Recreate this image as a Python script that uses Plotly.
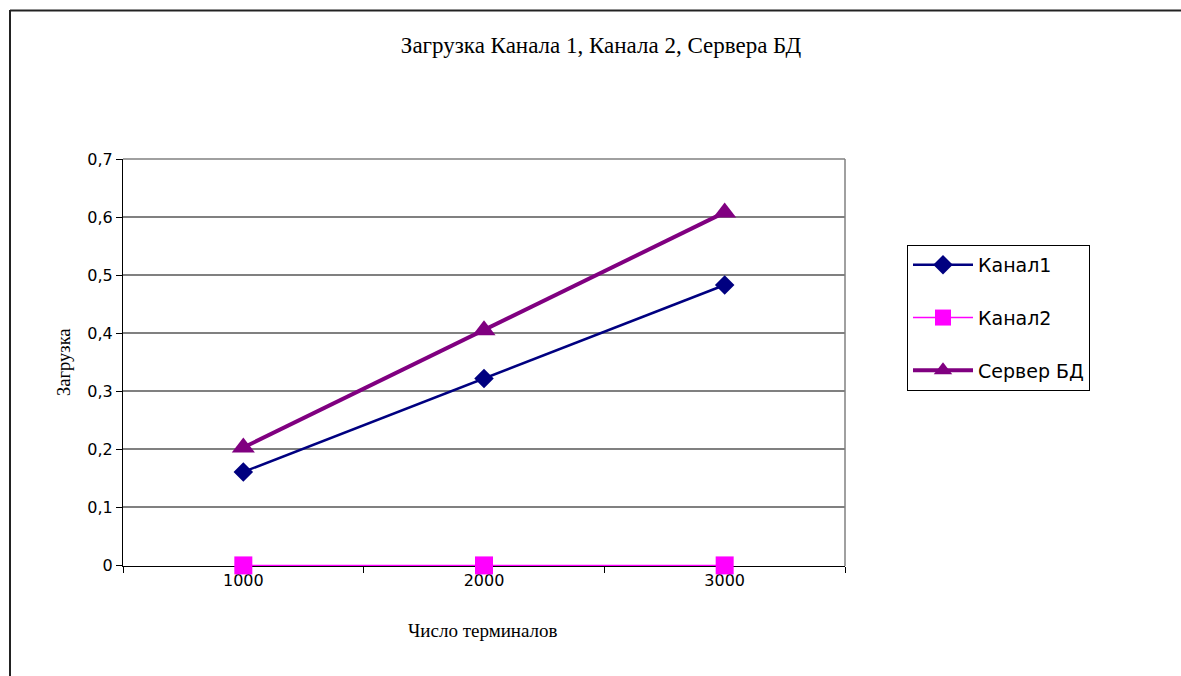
import plotly.graph_objects as go

# Data
terminals = ["1000", "2000", "3000"]
kanal1 = [0.161, 0.322, 0.483]
kanal2 = [0.0, 0.0, 0.0]
server_db = [0.203, 0.405, 0.608]

W, H = 1181, 676
L, R, T, B = 123, 336, 159, 110
pw, ph = W - L - R, H - T - B


def px_x(x):
    return (x - L) / pw


def px_y(y):
    return (H - B - y) / ph


SANS = "DejaVu Sans"
SERIF = "Liberation Serif"

fig = go.Figure()
fig.add_trace(go.Scatter(
    x=terminals, y=kanal1, name="Канал1", mode="lines+markers",
    line=dict(color="#000080", width=2.5),
    marker=dict(symbol="diamond", size=15, color="#000080"),
    legendgroup="a", cliponaxis=False,
))
fig.add_trace(go.Scatter(
    x=terminals, y=kanal2, name="Канал2", mode="lines+markers",
    line=dict(color="#FF00FF", width=1.4),
    marker=dict(symbol="square", size=18, color="#FF00FF"),
    legendgroup="b", cliponaxis=False,
))
fig.add_trace(go.Scatter(
    x=terminals, y=server_db, name="Сервер БД", mode="lines+markers",
    line=dict(color="#800080", width=4),
    marker=dict(symbol="triangle-up", size=20, color="#800080"),
    legendgroup="c", cliponaxis=False,
))

shapes = [
    # outer chart frame (top and left edges)
    dict(type="line", xref="paper", yref="paper",
         x0=px_x(10), x1=px_x(W + 5), y0=px_y(10.5), y1=px_y(10.5),
         line=dict(color="#222222", width=2)),
    dict(type="line", xref="paper", yref="paper",
         x0=px_x(10), x1=px_x(10), y0=px_y(10), y1=px_y(H + 5),
         line=dict(color="#222222", width=2)),
    # right and top edges of the plot area
    dict(type="line", xref="paper", yref="paper", layer="below",
         x0=1, x1=1, y0=0, y1=1,
         line=dict(color="#808080", width=1.5)),
    dict(type="line", xref="paper", yref="paper", layer="below",
         x0=0, x1=1, y0=1, y1=1,
         line=dict(color="#808080", width=1.5)),
]

annotations = [
    dict(text="Число терминалов", xref="paper", yref="paper",
         x=px_x(483), y=px_y(630), xanchor="center", yanchor="middle",
         showarrow=False, font=dict(family=SERIF, size=19, color="black")),
    dict(text="Загрузка", xref="paper", yref="paper", textangle=-90,
         x=px_x(64), y=px_y(362), xanchor="center", yanchor="middle",
         showarrow=False, font=dict(family=SERIF, size=18.5, color="black")),
]

fig.update_layout(
    width=W, height=H,
    margin=dict(l=L, r=R, t=T, b=B),
    paper_bgcolor="white", plot_bgcolor="white",
    separators=", ",
    title=dict(text="Загрузка Канала 1, Канала 2, Сервера БД",
               xref="container", yref="container",
               x=601 / W, y=1 - 45 / H, xanchor="center", yanchor="middle",
               font=dict(family=SERIF, size=23, color="black")),
    xaxis=dict(type="category", range=[-0.5, 2.5], showgrid=False,
               showline=True, linecolor="black", linewidth=1,
               ticks="outside", tickson="boundaries", ticklen=6,
               tickcolor="black", tickfont=dict(family=SANS, size=16, color="black"),
               zeroline=False, fixedrange=True, layer="below traces"),
    # tiny negative lower bound keeps the zero-level line from being clipped
    yaxis=dict(range=[-0.001, 0.7], dtick=0.1, tick0=0, showgrid=True,
               gridcolor="#808080", gridwidth=1.5,
               showline=True, linecolor="black", linewidth=1,
               ticks="outside", ticklen=6, tickcolor="black",
               tickfont=dict(family=SANS, size=16, color="black"),
               zeroline=False, layer="below traces"),
    legend=dict(x=px_x(907), y=px_y(245), xanchor="left", yanchor="top",
                bordercolor="black", borderwidth=1, bgcolor="white",
                font=dict(family=SANS, size=19, color="black"),
                tracegroupgap=25, itemwidth=60),
    shapes=shapes,
    annotations=annotations,
)

fig.write_html("out.html")
